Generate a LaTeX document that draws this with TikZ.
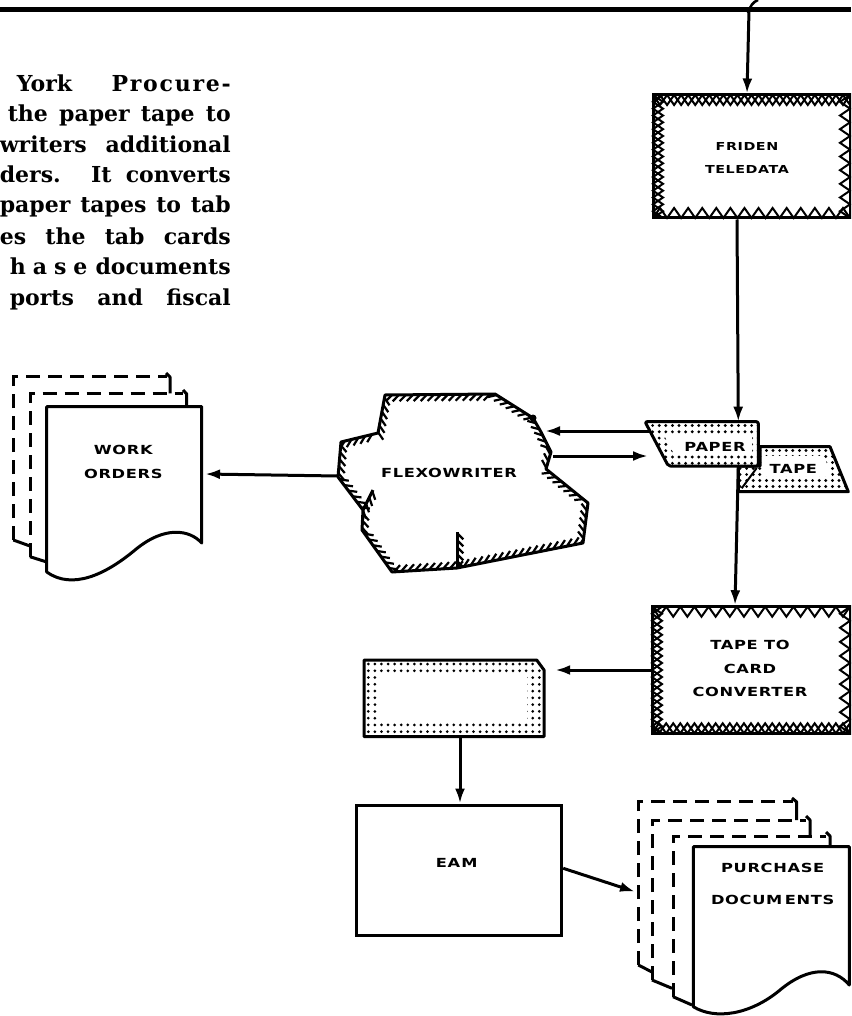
\documentclass[tikz,border=0pt]{standalone}
\usepackage{fontspec}
\usepackage{graphicx}
\usetikzlibrary{arrows.meta,decorations.pathreplacing}
\setmainfont{DejaVu Serif}
\newfontfamily\labfont[LetterSpace=4]{DejaVu Sans Bold}
\newcommand\lb[1]{\scalebox{1.3}[1]{#1}}
\newcommand\zzh[4]{%
  \pgfmathtruncatemacro\zzN{max(1,round((#2-#1)/14))}%
  \pgfmathsetmacro\zzP{(#2-#1)/\zzN}%
  \draw[zz] (#1,#3) \foreach \i in {1,...,\zzN} { -- ({#1+(\i-0.5)*\zzP},{#3+(#4)}) -- ({#1+\i*\zzP},#3) };%
}
\newcommand\zzv[4]{%
  \pgfmathtruncatemacro\zzN{max(1,round((#2-#1)/14))}%
  \pgfmathsetmacro\zzP{(#2-#1)/\zzN}%
  \draw[zz] (#3,#1) \foreach \i in {1,...,\zzN} { -- ({#3+(#4)},{#1+(\i-0.5)*\zzP}) -- (#3,{#1+\i*\zzP}) };%
}
\begin{document}
\begin{tikzpicture}[x=1pt,y=-1pt,
  lab/.style={font=\labfont\fontsize{12.5}{23.5}\selectfont, inner sep=0pt, align=center},
  labs/.style={font=\labfont\fontsize{11}{23.3}\selectfont, inner sep=0pt, align=center},
  arr/.style={line width=3pt, -{Latex[length=15pt,width=10pt]}},
  ln/.style={line width=3pt},
  zz/.style={line width=2pt, line join=miter},
  dsheet/.style={line width=3pt, dash pattern=on 14pt off 8pt},
  sheet/.style={line width=3pt, fill=white, line join=round},
  hook/.style={line width=3pt, line join=round},
  bodytxt/.style={anchor=base east, inner sep=0pt, font=\bfseries\fontsize{22}{30}\selectfont},
  hatch/.style={line width=2.2pt, decorate, decoration={border, segment length=7pt, amplitude=-9pt, angle=45}},
  ghost/.style={draw=none, inner sep=0pt},
  frame/.style={draw, line width=3pt, inner sep=0pt},
  dot/.style={fill=black}]
\useasboundingbox (0,0) rectangle (851,1016);
\clip (0,0) rectangle (851,1016);

% ---------- body text ----------
\node[bodytxt] (t1) at (231,92) {\makebox[214pt][s]{York {\addfontfeature{LetterSpace=8}Procure-}}};
\node[bodytxt] (t2) at (231,122) {\makebox[223pt][s]{the paper tape to}};
\node[bodytxt] (t3) at (231,153) {\makebox[231pt][s]{writers additional}};
\node[bodytxt] (t4) at (231,183) {\makebox[231pt][s]{ders. It converts}};
\node[bodytxt] (t5) at (231,213) {\makebox[231pt][s]{paper tapes to tab}};
\node[bodytxt] (t6) at (231,244) {\makebox[231pt][s]{es the tab cards}};
\node[bodytxt] (t7) at (231,274) {\makebox[221pt][s]{h\kern7pt a\kern7pt s\kern7pt e documents}};
\node[bodytxt] (t8) at (231,305) {\makebox[221pt][s]{ports and fiscal}};

% ---------- top line ----------
\coordinate (tl) at (0,10);
\coordinate (tr) at (851,10);
\coordinate (tap) at (749,10);
\draw[line width=5pt] (tl) -- (tr);
\draw[line width=2.5pt] (748,13) .. controls (750,6) and (753,2) .. (758,0);

% ---------- Friden Teledata ----------
\node[frame, minimum width=197pt, minimum height=123pt] (friden) at (751.5,156.5) {};
\zzh{653}{850}{95}{10}\zzh{653}{850}{105}{-10}
\zzv{95}{218}{653}{10}\zzv{95}{218}{663}{-10}
\zzh{653}{850}{218}{-10}
\zzv{95}{218}{850}{-10}
\node[labs] (fridenlab) at (747,158.3) {\lb{FRIDEN}\\\lb{TELEDATA}};

% ---------- Tape to card converter ----------
\node[frame, minimum width=198pt, minimum height=126.6pt] (conv) at (751,670) {};
\zzh{652}{850}{606.7}{10}
\zzv{606.7}{733.3}{652}{10}\zzv{606.7}{733.3}{662}{-10}
\zzh{652}{850}{733.3}{-10}\zzh{652}{850}{723.3}{10}
\zzv{606.7}{733.3}{850}{-10}
\node[lab] (convlab) at (750,668.5) {\lb{TAPE TO}\\\lb{CARD}\\\lb{CONVERTER}};

% ---------- paper tape ----------
\def\tapepath{(738.3,466) -- (760,466) -- (760,446.7) -- (830,446.7) -- (848.3,491.7) -- (738.3,491.7) -- cycle}
\def\paperpath{(645,421.7) -- (758.3,421.7) -- (758.3,466) -- (668.3,466) -- cycle}
\fill[white] \tapepath;
\begin{scope}
  \clip \tapepath;
  \foreach \i in {0,...,17} \foreach \j in {0,...,7} \fill[dot] ({740+\i*6.6},{450.5+\j*6.0}) circle (1.6);
  \fill[white] (762,456) -- (823.8,456) -- (831.9,476) -- (762,476) -- cycle;
\end{scope}
\draw[ln, line join=round] \tapepath;
\draw[line width=2pt] (756.7,468) -- (741.7,488.3);
\fill[white] \paperpath;
\begin{scope}
  \clip \paperpath;
  \foreach \i in {0,...,17} \foreach \j in {0,...,6} \fill[dot] ({646+\i*6.6},{425.5+\j*6.3}) circle (1.6);
  \fill[white] (664,435) -- (752,435) -- (752,455) -- (674.5,455) -- cycle;
\end{scope}
\draw[ln, line join=round, rounded corners=2pt] \paperpath;
\node[lab] (paper) at (715,446.7) {\lb{PAPER}};
\node[lab] (tape) at (793.3,469.3) {\lb{TAPE}};
\coordinate (paperTop) at (738.3,421.7);
\coordinate (paperBot) at (738.3,466);
\coordinate (pL1) at (650,431);
\coordinate (pL2) at (648,456);

% ---------- Flexowriter ----------
\def\flexopath{(385,395) -- (495,394) -- (533,418) -- (541,432) -- (551,452) -- (546,469) -- (588,503) -- (583,543) -- (457,568) -- (392,572) -- (362,530) -- (363,510) -- (338,477) -- (341,442) -- (378,433) -- cycle}
\begin{scope}
  \clip \flexopath;
  \draw[hatch] \flexopath;
  \draw[hatch] (457,568) -- (457,532);
  \draw[hatch] (363,510) -- (373,490);
\end{scope}
\draw[line width=3pt, line join=round] \flexopath;
\draw[ln] (457,568) -- (457,532);
\draw[ln] (363,510) -- (373,490);
\fill (533,418) circle (3.5);
\node[lab] (flexo) at (449,473.3) {\lb{FLEXOWRITER}};
\coordinate (fxR1) at (545,431);
\coordinate (fxR2) at (553,456);
\coordinate (fxL) at (338,476);

% ---------- Work orders ----------
\draw[dsheet] (13.3,540) -- (13.3,376.7) -- (167,376.7);
\draw[hook] (166,373) -- (170,377) -- (170,393.3);
\draw[hook] (13.3,540) -- (30,546);
\draw[dsheet] (30,556.7) -- (30,393.3) -- (183,393.3);
\draw[hook] (183,390) -- (186.7,394) -- (186.7,406.7);
\draw[hook] (30,556.7) -- (46.7,562);
\draw[sheet] (46.7,406.7) -- (201.7,406.7) -- (201.7,543) .. controls (190,530) and (165,525) .. (135,550) .. controls (105,575) and (72,590) .. (46.7,572) -- cycle;
\node[lab] (work) at (123.3,461.7) {\lb{WORK}\\\lb{ORDERS}};
\coordinate (woR) at (205,474);

% ---------- blank card ----------
\def\cardpath{(364,660) -- (536.7,660) -- (544,670) -- (544,736.7) -- (364,736.7) -- cycle}
\node[ghost, minimum width=180pt, minimum height=76.7pt] (card) at (454,698.3) {};
\begin{scope}
  \clip \cardpath;
  \foreach \i in {0,...,26} \foreach \j in {0,...,10} \fill[dot] ({368.3+\i*6.577},{664+\j*6.77}) circle (1.5);
  \fill[white] (380,676) rectangle (527,721);
\end{scope}
\draw[ln, line join=round] \cardpath;

% ---------- EAM ----------
\node[frame, minimum width=205pt, minimum height=130pt] (eam) at (459.2,870) {};
\node[lab] (eamlab) at (456.7,862.7) {\lb{EA\kern1ptM}};

% ---------- Purchase documents ----------
\draw[dsheet] (638.3,965) -- (638.3,801.7) -- (793,801.7);
\draw[hook] (792,798) -- (796.7,802) -- (796.7,820);
\draw[hook] (638.3,965) -- (652,972);
\draw[dsheet] (652,980) -- (652,820) -- (806,820);
\draw[hook] (806,816) -- (810,820) -- (810,836);
\draw[hook] (652,980) -- (672,988.3);
\draw[dsheet] (673,996.7) -- (673,836) -- (826,836);
\draw[hook] (826,832) -- (830,836) -- (830,846.7);
\draw[hook] (673,996.7) -- (692,1005);
\draw[sheet] (693.3,846.7) -- (849.3,846.7) -- (849.3,985) .. controls (835,968) and (810,965) .. (780,990) .. controls (750,1015) and (715,1020) .. (693.3,1006.7) -- cycle;
\node[lab] (purch) at (772.7,884) {\lb{PURCHASE}\\[8pt]\lb{DOCUM\kern2ptENTS}};
\coordinate (pdIn) at (635,891.7);

% ---------- connectors ----------
\draw[arr] (tap) -- ([xshift=-4.5pt]friden.north);
\draw[arr] ([xshift=-14.5pt]friden.south) -- (paperTop);
\draw[arr] (paperBot) -- ([xshift=-16pt]conv.north);
\draw[arr, shorten >=11pt] (conv.west) -- (conv.west -| card.east);
\draw[arr] ([xshift=6pt]card.south) -- ([xshift=6pt]card.south |- eam.north);
\draw[arr] ([yshift=1.7pt]eam.east) -- (pdIn);
\draw[arr] (pL1) -- (fxR1);
\draw[arr] (fxR2) -- (pL2);
\draw[arr] (fxL) -- (woR);
\end{tikzpicture}
\end{document}
